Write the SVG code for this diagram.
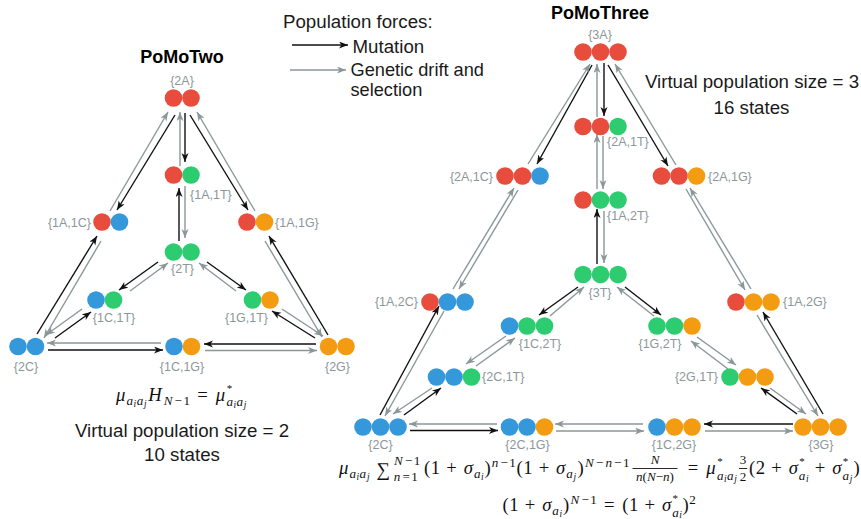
<svg xmlns="http://www.w3.org/2000/svg" width="861" height="519" viewBox="0 0 861 519">
<style>
.R{fill:#E74C3C}.B{fill:#3498DB}.G{fill:#2ECC71}.O{fill:#F39C12}
.lb{font-family:"Liberation Sans",Arial,sans-serif;font-size:12.5px;fill:#8C979A}
.tx{font-family:"Liberation Sans",Arial,sans-serif;font-size:18.7px;fill:#1a1a1a}
.tl{font-size:18.2px}
.tt{font-family:"Liberation Sans",Arial,sans-serif;font-size:18px;font-weight:bold;fill:#000}
.mu{stroke:#111;stroke-width:1.4;fill:none;marker-end:url(#ab)}
.dr{stroke:#8A9799;stroke-width:1.4;fill:none;marker-end:url(#ag)}
.f{font-family:"Liberation Serif","DejaVu Serif",serif;fill:#111;text-anchor:middle}
.m{font-size:18.7px;font-style:italic}.mr{font-size:18.7px}
.s{font-size:13.1px;font-style:italic}.sr{font-size:13.1px}
.st{font-size:11px}
.ss{font-size:9.4px;font-style:italic}
.bar{stroke:#111;stroke-width:0.9}
</style>
<defs>
<marker id="ab" markerUnits="userSpaceOnUse" markerWidth="10" markerHeight="8" refX="9" refY="3.5" orient="auto"><path d="M0,0 L9,3.5 L0,7 L2.5,3.5 Z" fill="#111"/></marker>
<marker id="ag" markerUnits="userSpaceOnUse" markerWidth="10" markerHeight="8" refX="9" refY="3.5" orient="auto"><path d="M0,0 L9,3.5 L0,7 L2.5,3.5 Z" fill="#8A9799"/></marker>
</defs>
<rect width="861" height="519" fill="#fff"/>

<text class="tt" x="182" y="63" text-anchor="middle">PoMoTwo</text>
<text class="tt" x="600" y="19" text-anchor="middle">PoMoThree</text>

<g id="legend">
<text class="tx" x="283" y="28">Population forces:</text>
<line class="mu" x1="292" y1="45" x2="348" y2="45"/>
<text class="tx" x="352.5" y="53">Mutation</text>
<line class="dr" x1="290" y1="70" x2="346" y2="70"/>
<text class="tx tl" x="350.5" y="75.5">Genetic drift and</text>
<text class="tx tl" x="350.5" y="96">selection</text>
</g>

<g id="connectors">
<!-- PoMoTwo -->
<line class="mu" x1="185" y1="113" x2="185" y2="162"/>
<line class="dr" x1="180" y1="166" x2="180" y2="112"/>
<line class="mu" x1="179" y1="241" x2="179" y2="188"/>
<line class="dr" x1="185" y1="186" x2="185" y2="238"/>
<line class="mu" x1="175" y1="115" x2="117" y2="210"/>
<line class="dr" x1="110" y1="211" x2="168" y2="112"/>
<line class="mu" x1="190" y1="115" x2="248" y2="210"/>
<line class="dr" x1="255" y1="211" x2="197" y2="112"/>
<line class="mu" x1="37" y1="334" x2="97" y2="236"/>
<line class="dr" x1="101" y1="241" x2="44" y2="338"/>
<line class="mu" x1="328" y1="335" x2="269" y2="236"/>
<line class="dr" x1="265" y1="241" x2="322" y2="337"/>
<line class="mu" x1="158" y1="262" x2="119" y2="290"/>
<line class="dr" x1="130" y1="291" x2="168" y2="263"/>
<line class="mu" x1="207" y1="262" x2="246" y2="290"/>
<line class="dr" x1="236" y1="291" x2="199" y2="263"/>
<line class="mu" x1="55" y1="338" x2="91" y2="312"/>
<line class="dr" x1="82" y1="309" x2="46" y2="335"/>
<line class="mu" x1="315" y1="338" x2="272" y2="311"/>
<line class="dr" x1="282" y1="309" x2="323" y2="336"/>
<line class="dr" x1="161" y1="343" x2="47" y2="343"/>
<line class="mu" x1="48" y1="350" x2="163" y2="350"/>
<line class="mu" x1="316" y1="344" x2="204" y2="344"/>
<line class="dr" x1="205" y1="350.5" x2="317" y2="350.5"/>
<!-- PoMoThree -->
<line class="mu" x1="604" y1="63" x2="604" y2="116"/>
<line class="dr" x1="597" y1="117" x2="597" y2="64"/>
<line class="dr" x1="603" y1="136" x2="603" y2="189"/>
<line class="dr" x1="597" y1="189" x2="597" y2="134"/>
<line class="mu" x1="597" y1="264" x2="597" y2="209"/>
<line class="dr" x1="604" y1="211" x2="604" y2="263"/>
<line class="mu" x1="592" y1="65" x2="537" y2="164"/>
<line class="dr" x1="528" y1="164" x2="590" y2="64"/>
<line class="mu" x1="608" y1="65" x2="668" y2="166"/>
<line class="dr" x1="676" y1="165" x2="615" y2="64"/>
<line class="dr" x1="518" y1="190" x2="459" y2="289"/>
<line class="dr" x1="453" y1="289" x2="514" y2="188"/>
<line class="dr" x1="686" y1="189" x2="745" y2="290"/>
<line class="dr" x1="751" y1="289" x2="690" y2="188"/>
<line class="mu" x1="380" y1="415" x2="439" y2="306"/>
<line class="dr" x1="444" y1="311" x2="385" y2="416"/>
<line class="mu" x1="823" y1="414" x2="763" y2="312"/>
<line class="dr" x1="757" y1="315" x2="818" y2="416"/>
<line class="mu" x1="578" y1="287" x2="539" y2="315"/>
<line class="dr" x1="550" y1="316" x2="584" y2="287"/>
<line class="mu" x1="625" y1="287" x2="661" y2="315"/>
<line class="dr" x1="654" y1="316" x2="617" y2="287"/>
<line class="dr" x1="506" y1="336" x2="466" y2="364"/>
<line class="dr" x1="476" y1="366" x2="515" y2="338"/>
<line class="dr" x1="697" y1="337" x2="736" y2="365"/>
<line class="dr" x1="728" y1="369" x2="691" y2="341"/>
<line class="mu" x1="404" y1="415" x2="441" y2="388"/>
<line class="dr" x1="432" y1="388" x2="393" y2="414"/>
<line class="mu" x1="797" y1="414" x2="761" y2="388"/>
<line class="dr" x1="770" y1="388" x2="806" y2="414"/>
<line class="dr" x1="497" y1="424" x2="409" y2="424"/>
<line class="mu" x1="410" y1="430.5" x2="498" y2="430.5"/>
<line class="dr" x1="643" y1="424" x2="555" y2="424"/>
<line class="dr" x1="556" y1="431" x2="644" y2="431"/>
<line class="mu" x1="793" y1="424" x2="704" y2="424"/>
<line class="dr" x1="705" y1="431" x2="793" y2="431"/>
</g>

<!-- PoMoTwo nodes -->
<g id="n2-2A"><circle class="R" cx="173.5" cy="98" r="8.8"/><circle class="R" cx="191" cy="98" r="8.8"/><text class="lb" x="182" y="85" text-anchor="middle">{2A}</text></g>
<g id="n2-1A1T"><circle class="R" cx="173.5" cy="175" r="8.8"/><circle class="G" cx="191" cy="175" r="8.8"/><text class="lb" x="190" y="199">{1A,1T}</text></g>
<g id="n2-1A1C"><circle class="R" cx="102" cy="222" r="8.8"/><circle class="B" cx="119.5" cy="222" r="8.8"/><text class="lb" x="91" y="227" text-anchor="end">{1A,1C}</text></g>
<g id="n2-1A1G"><circle class="R" cx="247" cy="222" r="8.8"/><circle class="O" cx="264.5" cy="222" r="8.8"/><text class="lb" x="275" y="227">{1A,1G}</text></g>
<g id="n2-2T"><circle class="G" cx="173.5" cy="252" r="8.8"/><circle class="G" cx="191" cy="252" r="8.8"/><text class="lb" x="182.5" y="273" text-anchor="middle">{2T}</text></g>
<g id="n2-1C1T"><circle class="B" cx="96" cy="300" r="8.8"/><circle class="G" cx="113.5" cy="300" r="8.8"/><text class="lb" x="114" y="322" text-anchor="middle">{1C,1T}</text></g>
<g id="n2-1G1T"><circle class="G" cx="252.5" cy="300" r="8.8"/><circle class="O" cx="270" cy="300" r="8.8"/><text class="lb" x="246.5" y="322" text-anchor="middle">{1G,1T}</text></g>
<g id="n2-2C"><circle class="B" cx="18" cy="346.5" r="8.8"/><circle class="B" cx="35.5" cy="346.5" r="8.8"/><text class="lb" x="26" y="371" text-anchor="middle">{2C}</text></g>
<g id="n2-1C1G"><circle class="B" cx="174" cy="346.5" r="8.8"/><circle class="O" cx="191.5" cy="346.5" r="8.8"/><text class="lb" x="182" y="371" text-anchor="middle">{1C,1G}</text></g>
<g id="n2-2G"><circle class="O" cx="328.5" cy="346.5" r="8.8"/><circle class="O" cx="346" cy="346.5" r="8.8"/><text class="lb" x="337.5" y="371" text-anchor="middle">{2G}</text></g>

<!-- PoMoThree nodes -->
<g id="n3-3A"><circle class="R" cx="583" cy="52" r="8.8"/><circle class="R" cx="600.5" cy="52" r="8.8"/><circle class="R" cx="618" cy="52" r="8.8"/><text class="lb" x="600" y="39" text-anchor="middle">{3A}</text></g>
<g id="n3-2A1T"><circle class="R" cx="583" cy="126.5" r="8.8"/><circle class="R" cx="600.5" cy="126.5" r="8.8"/><circle class="G" cx="618" cy="126.5" r="8.8"/><text class="lb" x="607" y="146">{2A,1T}</text></g>
<g id="n3-1A2T"><circle class="R" cx="583" cy="200" r="8.8"/><circle class="G" cx="600.5" cy="200" r="8.8"/><circle class="G" cx="618" cy="200" r="8.8"/><text class="lb" x="607" y="220">{1A,2T}</text></g>
<g id="n3-3T"><circle class="G" cx="583" cy="274.5" r="8.8"/><circle class="G" cx="600.5" cy="274.5" r="8.8"/><circle class="G" cx="618" cy="274.5" r="8.8"/><text class="lb" x="600" y="297" text-anchor="middle">{3T}</text></g>
<g id="n3-2A1C"><circle class="R" cx="505" cy="176" r="8.8"/><circle class="R" cx="522.5" cy="176" r="8.8"/><circle class="B" cx="540" cy="176" r="8.8"/><text class="lb" x="493" y="181" text-anchor="end">{2A,1C}</text></g>
<g id="n3-2A1G"><circle class="R" cx="661.5" cy="176" r="8.8"/><circle class="R" cx="679" cy="176" r="8.8"/><circle class="O" cx="696.5" cy="176" r="8.8"/><text class="lb" x="708" y="181">{2A,1G}</text></g>
<g id="n3-1A2C"><circle class="R" cx="430" cy="302" r="8.8"/><circle class="B" cx="447.5" cy="302" r="8.8"/><circle class="B" cx="465" cy="302" r="8.8"/><text class="lb" x="418" y="306" text-anchor="end">{1A,2C}</text></g>
<g id="n3-1A2G"><circle class="R" cx="736" cy="302" r="8.8"/><circle class="O" cx="753.5" cy="302" r="8.8"/><circle class="O" cx="771" cy="302" r="8.8"/><text class="lb" x="783" y="306">{1A,2G}</text></g>
<g id="n3-1C2T"><circle class="B" cx="509.5" cy="326" r="8.8"/><circle class="G" cx="527" cy="326" r="8.8"/><circle class="G" cx="544.5" cy="326" r="8.8"/><text class="lb" x="540" y="348" text-anchor="middle">{1C,2T}</text></g>
<g id="n3-1G2T"><circle class="G" cx="657" cy="326" r="8.8"/><circle class="G" cx="674.5" cy="326" r="8.8"/><circle class="O" cx="692" cy="326" r="8.8"/><text class="lb" x="660" y="348" text-anchor="middle">{1G,2T}</text></g>
<g id="n3-2C1T"><circle class="B" cx="436.5" cy="377" r="8.8"/><circle class="B" cx="454" cy="377" r="8.8"/><circle class="G" cx="471.5" cy="377" r="8.8"/><text class="lb" x="482" y="381">{2C,1T}</text></g>
<g id="n3-2G1T"><circle class="G" cx="730" cy="377" r="8.8"/><circle class="O" cx="747.5" cy="377" r="8.8"/><circle class="O" cx="765" cy="377" r="8.8"/><text class="lb" x="718" y="381" text-anchor="end">{2G,1T}</text></g>
<g id="n3-2C"><circle class="B" cx="363" cy="427" r="8.8"/><circle class="B" cx="380.5" cy="427" r="8.8"/><circle class="B" cx="398" cy="427" r="8.8"/><text class="lb" x="380.5" y="449" text-anchor="middle">{2C}</text></g>
<g id="n3-2C1G"><circle class="B" cx="509.5" cy="427" r="8.8"/><circle class="B" cx="527" cy="427" r="8.8"/><circle class="O" cx="544.5" cy="427" r="8.8"/><text class="lb" x="527.5" y="449" text-anchor="middle">{2C,1G}</text></g>
<g id="n3-1C2G"><circle class="B" cx="657" cy="427" r="8.8"/><circle class="O" cx="674.5" cy="427" r="8.8"/><circle class="O" cx="692" cy="427" r="8.8"/><text class="lb" x="674" y="449" text-anchor="middle">{1C,2G}</text></g>
<g id="n3-3G"><circle class="O" cx="803" cy="427" r="8.8"/><circle class="O" cx="820.5" cy="427" r="8.8"/><circle class="O" cx="838" cy="427" r="8.8"/><text class="lb" x="821" y="449" text-anchor="middle">{3G}</text></g>

<g id="captions">
<text class="tx" x="182" y="437" text-anchor="middle">Virtual population size = 2</text>
<text class="tx" x="182" y="461" text-anchor="middle">10 states</text>
<text class="tx" x="752" y="88" text-anchor="middle">Virtual population size = 3</text>
<text class="tx" x="751.5" y="114" text-anchor="middle">16 states</text>
</g>

<g id="formula-two" class="f">
<text class="m" x="120.6" y="401">μ</text>
<text class="s" x="129.8" y="404.5">a</text><text class="ss" x="134.8" y="406.5">i</text><text class="s" x="139.9" y="404.5">a</text><text class="ss" x="145.2" y="406.5">j</text>
<text class="m" x="154.9" y="401">H</text>
<text class="s" x="168" y="404.5">N</text><text class="sr" x="178.3" y="404.5">−</text><text class="sr" x="186.7" y="404.5">1</text>
<text class="mr" x="202.4" y="401">=</text>
<text class="m" x="220.5" y="401">μ</text>
<text class="st" x="229.5" y="392">*</text>
<text class="s" x="229.7" y="406">a</text><text class="ss" x="234.7" y="408">i</text><text class="s" x="239.8" y="406">a</text><text class="ss" x="245.1" y="408">j</text>
</g>

<g id="formula-three-1" class="f">
<text class="m" x="343.6" y="474">μ</text>
<text class="s" x="352.8" y="477.5">a</text><text class="ss" x="357.8" y="479.5">i</text><text class="s" x="362.8" y="477.5">a</text><text class="ss" x="368.2" y="479.5">j</text>
<text class="mr" x="383.2" y="476" style="font-size:19px">∑</text>
<text class="s" x="398.4" y="465">N</text><text class="sr" x="408.7" y="465">−</text><text class="sr" x="417.1" y="465">1</text>
<text class="s" x="397" y="481">n</text><text class="sr" x="406.1" y="481">=</text><text class="sr" x="414.5" y="481">1</text>
<text class="mr" x="427.2" y="474">(</text><text class="mr" x="435.5" y="474">1</text><text class="mr" x="451.6" y="474">+</text><text class="m" x="468.4" y="474">σ</text>
<text class="s" x="477.2" y="477.5">a</text><text class="ss" x="482.2" y="479.5">i</text><text class="mr" x="487.5" y="474">)</text>
<text class="s" x="495" y="467">n</text><text class="sr" x="504.1" y="467">−</text><text class="sr" x="512.5" y="467">1</text>
<text class="mr" x="519.5" y="474">(</text><text class="mr" x="527.8" y="474">1</text><text class="mr" x="543.9" y="474">+</text><text class="m" x="560.7" y="474">σ</text>
<text class="s" x="569.5" y="477.5">a</text><text class="ss" x="574.8" y="479.5">j</text><text class="mr" x="580.5" y="474">)</text>
<text class="s" x="589.4" y="467">N</text><text class="sr" x="599.7" y="467">−</text><text class="s" x="608.8" y="467">n</text><text class="sr" x="617.8" y="467">−</text><text class="sr" x="626.2" y="467">1</text>
<text class="s" x="655" y="464">N</text>
<line class="bar" x1="632.5" y1="468.5" x2="677.5" y2="468.5"/>
<text class="sr" x="655" y="481"><tspan font-style="italic">n</tspan>(<tspan font-style="italic">N</tspan>−<tspan font-style="italic">n</tspan>)</text>
<text class="mr" x="693" y="474">=</text>
<text class="m" x="711" y="474">μ</text>
<text class="st" x="720" y="465">*</text>
<text class="s" x="720.2" y="479.5">a</text><text class="ss" x="725.2" y="481.5">i</text><text class="s" x="730.2" y="479.5">a</text><text class="ss" x="735.6" y="481.5">j</text>
<text class="sr" x="743.1" y="464">3</text>
<line class="bar" x1="739" y1="468.5" x2="747.2" y2="468.5"/>
<text class="sr" x="743.1" y="481">2</text>
<text class="mr" x="752.2" y="474">(</text><text class="mr" x="760.5" y="474">2</text><text class="mr" x="776.6" y="474">+</text><text class="m" x="793.3" y="474">σ</text>
<text class="st" x="802" y="465">*</text><text class="s" x="802.1" y="479.5">a</text><text class="ss" x="807.2" y="481.5">i</text>
<text class="mr" x="820.1" y="474">+</text><text class="m" x="836.9" y="474">σ</text>
<text class="st" x="845.6" y="465">*</text><text class="s" x="845.7" y="479.5">a</text><text class="ss" x="851.1" y="481.5">j</text>
<text class="mr" x="856.6" y="474">)</text>
</g>

<g id="formula-three-2" class="f">
<text class="mr" x="505.6" y="511">(</text><text class="mr" x="514" y="511">1</text><text class="mr" x="530" y="511">+</text><text class="m" x="546.8" y="511">σ</text>
<text class="s" x="555.6" y="514.5">a</text><text class="ss" x="560.7" y="516.5">i</text><text class="mr" x="566" y="511">)</text>
<text class="s" x="574.8" y="504">N</text><text class="sr" x="585.2" y="504">−</text><text class="sr" x="593.6" y="504">1</text>
<text class="mr" x="609.3" y="511">=</text>
<text class="mr" x="625.4" y="511">(</text><text class="mr" x="633.7" y="511">1</text><text class="mr" x="649.8" y="511">+</text><text class="m" x="666.6" y="511">σ</text>
<text class="st" x="675.3" y="502">*</text><text class="s" x="675.4" y="516.5">a</text><text class="ss" x="680.5" y="518">i</text>
<text class="mr" x="685.7" y="511">)</text><text class="sr" x="692.6" y="504">2</text>
</g>
</svg>
